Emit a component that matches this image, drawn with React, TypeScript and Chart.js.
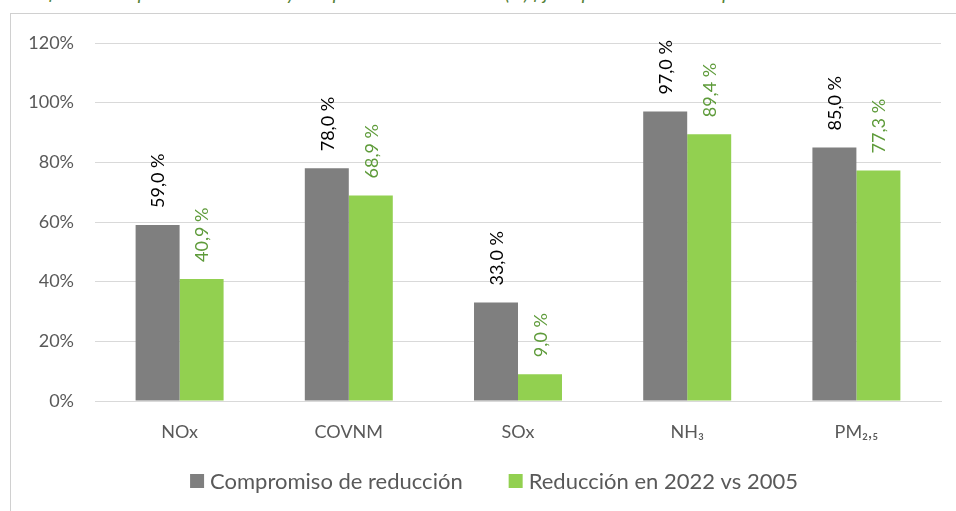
import React, { useEffect, useRef } from "react";
import { Chart, registerables } from "chart.js";

Chart.register(...registerables);

const categories = ["NOx", "COVNM", "SOx", "NH₃", "PM₂,₅"];
const compromiso = [59.0, 78.0, 33.0, 97.0, 85.0];
const reduccion = [40.9, 68.9, 9.0, 89.4, 77.3];
const seriesNames = ["Compromiso de reducción", "Reducción en 2022 vs 2005"];
const yTicks = [0, 20, 40, 60, 80, 100, 120];
const titleText =
  "Gráfica 4. Cumplimiento nacional y compromiso de reducción (%) fijado para el año 2030 por contaminante";

const FONT = "Lato, 'Open Sans', sans-serif";
const GREY = "#7F7F7F";
const GREEN = "#92D050";
const GREEN_TEXT = "#5E9B3A";
const TEXT = "#595959";

const fmt = (v: number) => v.toFixed(1).replace(".", ",") + " %";

const labelPlugin = {
  id: "barLabels",
  afterDatasetsDraw(chart: any) {
    const ctx = chart.ctx;
    chart.data.datasets.forEach((ds: any, di: number) => {
      const meta = chart.getDatasetMeta(di);
      meta.data.forEach((bar: any, i: number) => {
        const v = ds.data[i];
        ctx.save();
        ctx.translate(bar.x, bar.y - 17);
        ctx.rotate(-Math.PI / 2);
        ctx.font = `18px ${FONT}`;
        ctx.fillStyle = di === 0 ? "#000000" : GREEN_TEXT;
        ctx.textAlign = "left";
        ctx.textBaseline = "middle";
        ctx.fillText(fmt(v), 0, 1);
        ctx.restore();
      });
    });
  },
};

const legendPlugin = {
  id: "customLegend",
  afterDraw(chart: any) {
    const ctx = chart.ctx;
    ctx.save();
    ctx.font = `22px ${FONT}`;
    const box = 14;
    const gapText = 6;
    const gapItems = 46;
    const widths = chart.data.datasets.map((ds: any) => ctx.measureText(ds.label).width);
    const total =
      widths.reduce((a: number, w: number) => a + box + gapText + w, 0) + gapItems * (widths.length - 1);
    let x = 494 - total / 2;
    const y = 481;
    chart.data.datasets.forEach((ds: any, i: number) => {
      ctx.fillStyle = ds.backgroundColor;
      ctx.fillRect(x, y - box / 2, box, box);
      x += box + gapText;
      ctx.fillStyle = TEXT;
      ctx.textAlign = "left";
      ctx.textBaseline = "middle";
      ctx.fillText(ds.label, x, y + 1);
      x += widths[i] + gapItems;
    });
    ctx.restore();
  },
};

export default function App() {
  const ref = useRef<HTMLCanvasElement>(null);
  useEffect(() => {
    if (!ref.current) return;
    const chart = new Chart(ref.current, {
      type: "bar",
      data: {
        labels: categories,
        datasets: [
          { label: seriesNames[0], data: compromiso, backgroundColor: GREY, borderWidth: 0 },
          { label: seriesNames[1], data: reduccion, backgroundColor: GREEN, borderWidth: 0 },
        ],
      },
      options: {
        animation: false,
        responsive: false,
        maintainAspectRatio: false,
        layout: { padding: { left: 0, right: 15, top: 43, bottom: 50 } },
        datasets: { bar: { barPercentage: 1, categoryPercentage: 0.52 } },
        scales: {
          x: {
            grid: { display: false, drawTicks: false },
            border: { display: true, color: "#D9D9D9", width: 1 },
            ticks: { color: TEXT, font: { family: FONT, size: 18 }, padding: 20 },
            afterFit: (s: any) => {
              s.height = 60;
            },
          },
          y: {
            min: 0,
            max: 120,
            afterBuildTicks: (s: any) => {
              s.ticks = yTicks.map((v) => ({ value: v }));
            },
            grid: { color: "#D9D9D9", lineWidth: 1, drawTicks: false },
            border: { display: false },
            ticks: {
              color: TEXT,
              font: { family: FONT, size: 18 },
              padding: 21,
              callback: (v: any) => v + "%",
            },
            afterFit: (s: any) => {
              s.width = 95;
            },
          },
        },
        plugins: {
          legend: { display: false },
          tooltip: { enabled: false },
        },
      },
      plugins: [labelPlugin, legendPlugin],
    });
    return () => chart.destroy();
  }, []);

  return (
    <div
      style={{
        position: "fixed",
        left: 0,
        top: 0,
        width: 956,
        height: 511,
        background: "#fff",
        overflow: "hidden",
      }}
    >
      <div style={{ position: "absolute", left: 0, top: 0, width: 956, height: 6, overflow: "hidden" }}>
        <span
          style={{
            position: "absolute",
            left: 20,
            top: -17,
            whiteSpace: "nowrap",
            fontFamily: FONT,
            fontStyle: "italic",
            fontSize: 19,
            lineHeight: "19px",
            color: "#548235",
          }}
        >
          {titleText}
        </span>
      </div>
      <div
        style={{
          position: "absolute",
          left: 10,
          top: 13,
          width: 1000,
          height: 600,
          border: "1.5px solid #D0D0D0",
        }}
      />
      <canvas ref={ref} width={956} height={511} style={{ position: "absolute", left: 0, top: 0 }} />
    </div>
  );
}
